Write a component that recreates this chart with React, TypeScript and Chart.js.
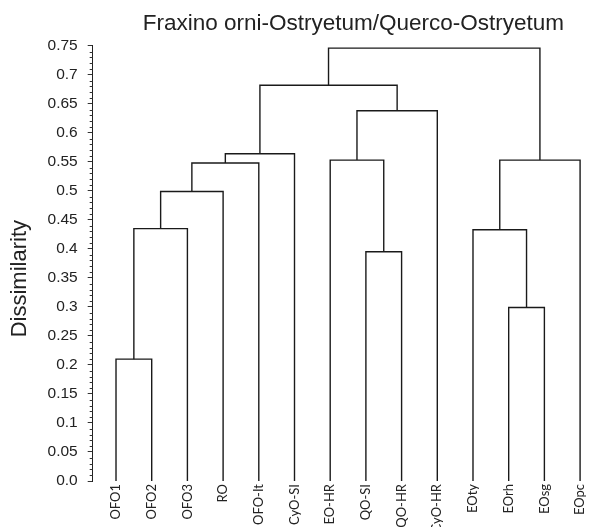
import React, { useEffect, useRef } from "react";
import { Chart, registerables } from "chart.js";

Chart.register(...registerables);

// ---- data ----
const leafLabels = [
  "OFO1", "OFO2", "OFO3", "RO", "OFO-It", "CyO-SI", "EO-HR",
  "QO-SI", "QO-HR", "CyO-HR", "EOty", "EOrh", "EOsg", "EOpc",
];
// linkage: node ids 0..13 are leaves, merges create ids 14, 15, ...
const mergeLeft = [0, 14, 15, 16, 17, 7, 6, 20, 18, 11, 10, 24, 22];
const mergeRight = [1, 2, 3, 4, 5, 8, 19, 9, 21, 12, 23, 13, 25];
const mergeHeight = [0.21, 0.435, 0.499, 0.548, 0.564, 0.395, 0.553, 0.638, 0.682, 0.299, 0.433, 0.553, 0.746];
const yTickValues = [0, 0.05, 0.1, 0.15, 0.2, 0.25, 0.3, 0.35, 0.4, 0.45, 0.5, 0.55, 0.6, 0.65, 0.7, 0.75];
const titleText = "Fraxino orni-Ostryetum/Querco-Ostryetum";
const yTitleText = "Dissimilarity";

function buildSegments() {
  const nodeX: number[] = leafLabels.map((_, i) => i);
  const nodeH: number[] = leafLabels.map(() => 0);
  const sets: any[] = [];
  for (let k = 0; k < mergeLeft.length; k++) {
    const a = mergeLeft[k];
    const b = mergeRight[k];
    const h = mergeHeight[k];
    sets.push({
      data: [
        { x: nodeX[a], y: nodeH[a] },
        { x: nodeX[a], y: h },
        { x: nodeX[b], y: h },
        { x: nodeX[b], y: nodeH[b] },
      ],
      borderColor: "#1a1a1a",
      borderWidth: 1.4,
      pointRadius: 0,
      showLine: true,
      tension: 0,
      fill: false,
    });
    nodeX.push((nodeX[a] + nodeX[b]) / 2);
    nodeH.push(h);
  }
  return sets;
}

const minorTicks = {
  id: "minorTicks",
  afterDraw(chart: any) {
    const y = chart.scales.y;
    const ctx = chart.ctx;
    const { left, top, bottom } = chart.chartArea;
    ctx.save();
    ctx.strokeStyle = "#333";
    ctx.lineWidth = 1;
    for (let i = 0; i <= 75; i++) {
      if (i % 5 === 0) continue;
      const py = Math.round(y.getPixelForValue(i / 100)) + 0.5;
      ctx.beginPath();
      ctx.moveTo(left - 3, py);
      ctx.lineTo(left, py);
      ctx.stroke();
    }
    ctx.restore();
    // y-axis title
    ctx.save();
    ctx.fillStyle = "#222";
    ctx.font = "22px 'Liberation Sans', Arial, sans-serif";
    ctx.textAlign = "center";
    ctx.textBaseline = "alphabetic";
    ctx.translate(25.5, top + (bottom - top) * 0.535);
    ctx.rotate(-Math.PI / 2);
    ctx.fillText(yTitleText, 0, 0);
    ctx.restore();
  },
};

export default function App() {
  const ref = useRef<HTMLCanvasElement | null>(null);
  useEffect(() => {
    if (!ref.current) return;
    const chart = new Chart(ref.current, {
      type: "scatter",
      data: { datasets: buildSegments() },
      plugins: [minorTicks],
      options: {
        animation: false,
        responsive: false,
        devicePixelRatio: 1,
        layout: { padding: 0 },
        plugins: {
          legend: { display: false },
          tooltip: { enabled: false },
          title: {
            display: true,
            text: titleText,
            fullSize: false,
            color: "#222",
            font: { family: "'Liberation Sans', Arial, sans-serif", size: 22.5, weight: "normal" },
            padding: { top: 9.8, bottom: 9 },
          },
        },
        scales: {
          x: {
            type: "linear",
            min: -0.653,
            max: 13.95,
            afterBuildTicks: (scale: any) => {
              scale.ticks = leafLabels.map((_, i) => ({ value: i }));
            },
            afterFit: (scale: any) => {
              scale.height = 46;
            },
            grid: { display: false, drawTicks: false },
            border: { display: false },
            ticks: {
              autoSkip: false,
              minRotation: 90,
              maxRotation: 90,
              padding: 3,
              color: "#222",
              font: { family: "Lato, 'Noto Sans', sans-serif", size: 13 },
              callback: (v: any) => leafLabels[Math.round(Number(v))] ?? "",
            },
          },
          y: {
            type: "linear",
            min: 0,
            max: 0.75,
            afterBuildTicks: (scale: any) => {
              scale.ticks = yTickValues.map((v) => ({ value: v }));
            },
            afterFit: (scale: any) => {
              scale.width = 92.7;
            },
            grid: {
              display: true,
              drawOnChartArea: false,
              drawTicks: true,
              tickLength: 5,
              tickColor: "#333",
              tickWidth: 1,
            },
            border: { display: true, color: "#222", width: 1 },
            ticks: {
              padding: 10,
              color: "#222",
              font: { family: "'Liberation Sans', Arial, sans-serif", size: 15.5 },
              callback: (v: any) => {
                const n = Number(v);
                if (n === 0) return "0.0";
                return String(Math.round(n * 100) / 100);
              },
            },
            title: { display: false },
          },
        },
      },
    } as any);
    return () => chart.destroy();
  }, []);
  return (
    <div style={{ position: "fixed", left: 0, top: 0, width: 591, height: 527, overflow: "hidden", background: "#fff" }}>
      <canvas ref={ref} width={614} height={527} style={{ width: 614, height: 527, display: "block" }} />
    </div>
  );
}
